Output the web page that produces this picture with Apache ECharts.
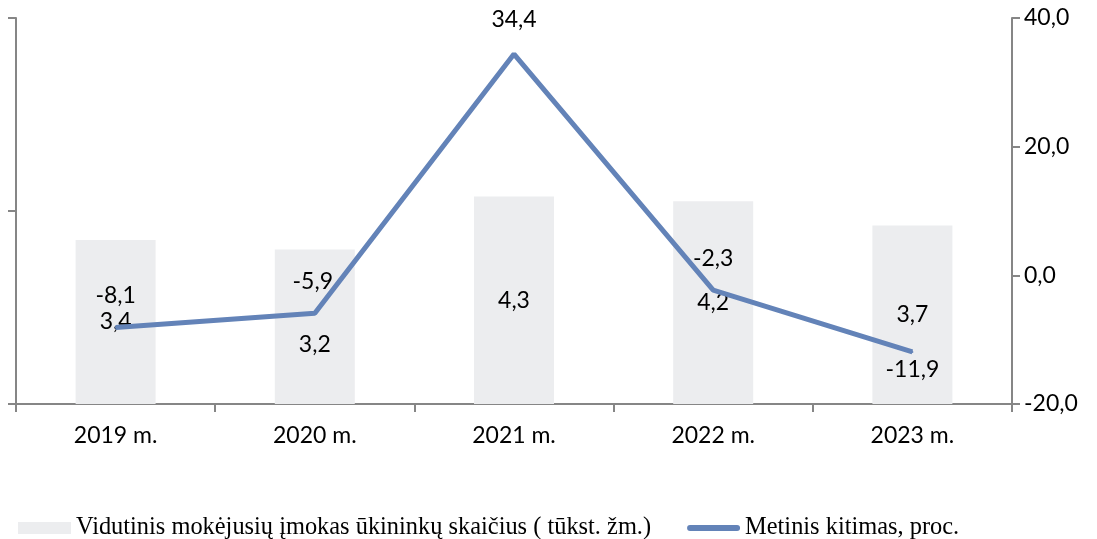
<!DOCTYPE html>
<html>
<head>
<meta charset="utf-8">
<script src="https://cdn.jsdelivr.net/npm/echarts@6/dist/echarts.min.js"></script>
<style>html,body{margin:0;padding:0;background:#fff}#c{width:1097px;height:539px}</style>
</head>
<body>
<div id="c"></div>
<script>
const categories = ['2019 m.', '2020 m.', '2021 m.', '2022 m.', '2023 m.'];
const farmers = [3.4, 3.2, 4.3, 4.2, 3.7];
const change = [-8.1, -5.9, 34.4, -2.3, -11.9];
const rightTicks = { min: -20, max: 40, interval: 20 };
const leftTicks = { min: 0, max: 8, interval: 4 };
const barName = 'Vidutinis mokėjusių įmokas ūkininkų skaičius ( tūkst. žm.)';
const lineName = 'Metinis kitimas, proc.';

const fmt = v => v.toFixed(1).replace('.', ',');
const axisCol = '#868686';
const font = 'Lato';
const lineCol = '#6383B8';

const chart = echarts.init(document.getElementById('c'));
chart.setOption({
  animation: false,
  grid: { left: 16, right: 85, top: 18, bottom: 135 },
  legend: {
    left: 13, top: 511,
    itemWidth: 53, itemHeight: 12, itemGap: 36,
    textStyle: { fontFamily: 'Liberation Serif', fontSize: 24.4, color: '#000' },
    data: [
      { name: barName, icon: 'rect' },
      { name: lineName, icon: 'path://M3,0 H50 A3,3 0 0 1 50,6 H3 A3,3 0 0 1 3,0 Z' }
    ]
  },
  xAxis: {
    type: 'category', data: categories,
    axisLine: { lineStyle: { color: axisCol, width: 2 } },
    axisTick: { show: true, length: 8, lineStyle: { color: axisCol, width: 2 } },
    axisLabel: { fontFamily: font, fontSize: 23, color: '#000', margin: 20 }
  },
  yAxis: [
    {
      type: 'value', position: 'left', min: leftTicks.min, max: leftTicks.max, interval: leftTicks.interval,
      axisLine: { show: true, lineStyle: { color: axisCol, width: 2 } },
      axisTick: { show: true, length: 8, lineStyle: { color: axisCol, width: 2 } },
      axisLabel: { show: false }, splitLine: { show: false }
    },
    {
      type: 'value', position: 'right', min: rightTicks.min, max: rightTicks.max, interval: rightTicks.interval,
      axisLine: { show: true, lineStyle: { color: axisCol, width: 2 } },
      axisTick: { show: true, length: 8, lineStyle: { color: axisCol, width: 2 } },
      axisLabel: { fontFamily: font, fontSize: 23, color: '#000', margin: 12, formatter: v => fmt(v) },
      splitLine: { show: false }
    }
  ],
  series: [
    {
      name: barName, type: 'bar', yAxisIndex: 0, barWidth: 80,
      itemStyle: { color: '#ECEDEF' },
      label: { show: true, position: 'inside', fontFamily: font, fontSize: 23, color: '#000', formatter: p => fmt(p.value) },
      data: farmers.map((v, i) => i === 1 ? { value: v, label: { offset: [0, 18] } } : v)
    },
    {
      name: lineName, type: 'line', yAxisIndex: 1, symbol: 'circle', symbolSize: 2, showSymbol: true,
      lineStyle: { color: lineCol, width: 5 }, itemStyle: { color: lineCol },
      label: { show: true, position: 'top', distance: 0, offset: [0, -19], fontFamily: font, fontSize: 23, color: '#000', formatter: p => fmt(p.value) },
      data: change.map((v, i) => i === 4 ? { value: v, label: { position: 'bottom', offset: [0, 5] } } : (i === 2 ? { value: v, label: { offset: [0, -22] } } : (i === 1 ? { value: v, label: { offset: [-2, -19] } } : v)))
    }
  ]
});
</script>
</body>
</html>
